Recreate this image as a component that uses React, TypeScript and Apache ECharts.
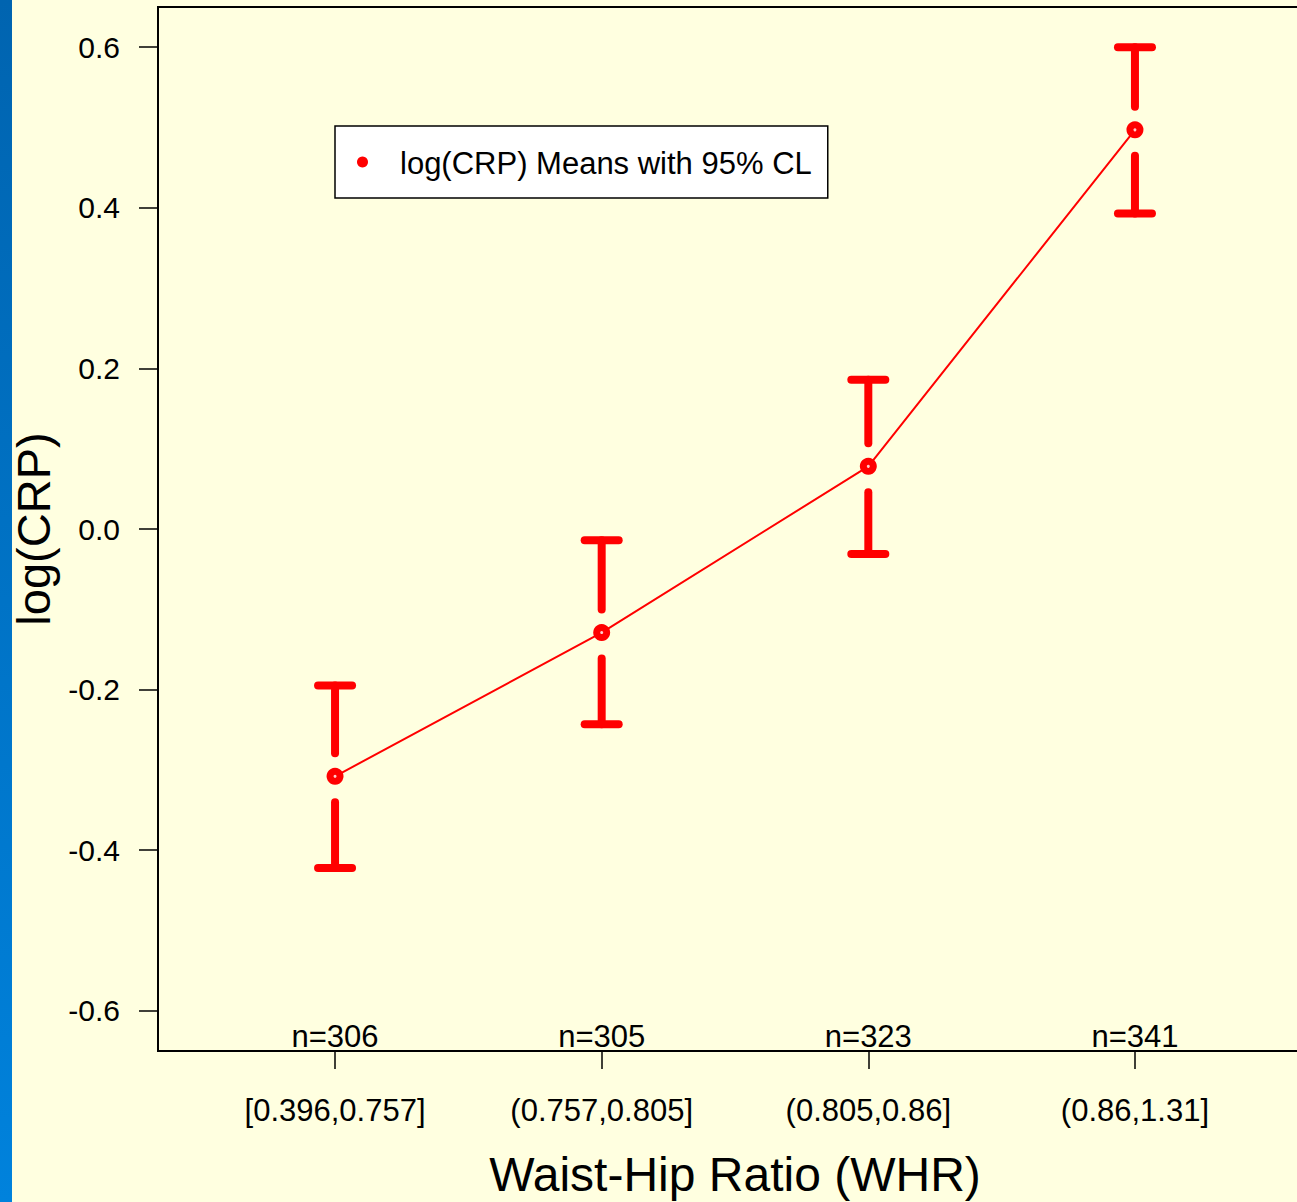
import React, { useEffect, useRef } from "react";
import * as echarts from "echarts";

// WHR quartile groups, sample sizes and log(CRP) means with 95% confidence limits
const categories = ["[0.396,0.757]", "(0.757,0.805]", "(0.805,0.86]", "(0.86,1.31]"];
const counts = [306, 305, 323, 341];
const means = [-0.308, -0.129, 0.078, 0.497];
const lowerCL = [-0.422, -0.243, -0.031, 0.393];
const upperCL = [-0.195, -0.014, 0.186, 0.6];
const yTicks = [-0.6, -0.4, -0.2, 0.0, 0.2, 0.4, 0.6];

const SERIES_NAME = "log(CRP) Means with 95% CL";
const FONT = "'Liberation Sans', Arial, Helvetica, sans-serif";
const RED = "#ff0000";
const X_MIN = 0.336;
const X_MAX = 4.664;
const Y_MIN = -0.65;
const Y_MAX = 0.65;

export default function App() {
  const ref = useRef<HTMLDivElement>(null);

  useEffect(() => {
    if (!ref.current) return;
    const chart = echarts.init(ref.current, null, { renderer: "svg" });
    const xs = categories.map((_, i) => i + 1);

    const option: any = {
      animation: false,
      backgroundColor: "#ffffe0",
      textStyle: { fontFamily: FONT },
      graphic: [
        {
          type: "rect",
          left: 0,
          top: 0,
          shape: { x: 0, y: 0, width: 12, height: 1202 },
          style: {
            fill: new echarts.graphic.LinearGradient(0, 0, 0, 1, [
              { offset: 0, color: "#0064b0" },
              { offset: 1, color: "#0082dc" },
            ]),
          },
          silent: true,
        },
      ],
      grid: {
        left: 158,
        right: -15,
        top: 7,
        bottom: 151,
        show: true,
        borderColor: "#000",
        borderWidth: 2,
        backgroundColor: "transparent",
        containLabel: false,
        outerBoundsMode: "none",
      },
      legend: {
        left: 335,
        top: 126,
        orient: "horizontal",
        backgroundColor: "#ffffff",
        borderColor: "#000",
        borderWidth: 1.5,
        borderRadius: 0,
        padding: [18, 16, 18, 22],
        itemWidth: 11,
        itemHeight: 11,
        selectedMode: false,
        data: [{ name: SERIES_NAME, icon: "circle", itemStyle: { color: RED } }],
        formatter: (name: string) => `{t|${name}}`,
        textStyle: {
          fontFamily: FONT,
          fontSize: 31,
          color: "#000",
          lineHeight: 36,
          rich: {
            t: {
              fontFamily: FONT,
              fontSize: 31,
              color: "#000",
              lineHeight: 36,
              padding: [2, 0, 0, 27],
            },
          },
        },
      },
      xAxis: {
        type: "value",
        min: X_MIN,
        max: X_MAX,
        name: "Waist-Hip Ratio (WHR)",
        nameLocation: "middle",
        nameGap: 99,
        nameTextStyle: { fontFamily: FONT, fontSize: 48, color: "#000" },
        axisLine: { show: true, onZero: false, lineStyle: { color: "#000", width: 2 } },
        axisTick: {
          show: true,
          inside: false,
          length: 18,
          customValues: xs,
          lineStyle: { color: "#000", width: 1.5 },
        },
        axisLabel: {
          show: true,
          customValues: xs,
          margin: 44,
          fontFamily: FONT,
          fontSize: 31,
          color: "#000",
          formatter: (v: number) => categories[Math.round(v) - 1] ?? "",
        },
        splitLine: { show: false },
      },
      yAxis: {
        type: "value",
        min: Y_MIN,
        max: Y_MAX,
        name: "log(CRP)",
        nameLocation: "middle",
        nameGap: 96,
        nameTextStyle: { fontFamily: FONT, fontSize: 47, color: "#000" },
        axisLine: { show: true, onZero: false, lineStyle: { color: "#000", width: 2 } },
        axisTick: {
          show: true,
          inside: false,
          length: 19,
          customValues: yTicks,
          lineStyle: { color: "#000", width: 1.5 },
        },
        axisLabel: {
          show: true,
          customValues: yTicks,
          margin: 38,
          fontFamily: FONT,
          fontSize: 30,
          color: "#000",
          formatter: (v: number) => (Math.abs(v) < 1e-9 ? "0.0" : v.toFixed(1)),
        },
        splitLine: { show: false },
      },
      series: [
        {
          // confidence-limit bars: thick stems with a gap around each mean, plus caps
          type: "custom",
          silent: true,
          z: 2,
          data: xs.map((x, i) => [x, means[i], lowerCL[i], upperCL[i]]),
          renderItem: (_params: any, api: any) => {
            const x = api.value(0);
            const c = api.coord([x, api.value(1)]);
            const lo = api.coord([x, api.value(2)]);
            const hi = api.coord([x, api.value(3)]);
            const style = { stroke: RED, lineWidth: 8, lineCap: "round" };
            const capHalf = 17;
            return {
              type: "group",
              children: [
                { type: "line", shape: { x1: c[0], y1: hi[1], x2: c[0], y2: c[1] - 23 }, style },
                { type: "line", shape: { x1: c[0], y1: c[1] + 26, x2: c[0], y2: lo[1] }, style },
                { type: "line", shape: { x1: c[0] - capHalf, y1: hi[1], x2: c[0] + capHalf, y2: hi[1] }, style },
                { type: "line", shape: { x1: c[0] - capHalf, y1: lo[1], x2: c[0] + capHalf, y2: lo[1] }, style },
              ],
            };
          },
        },
        {
          name: SERIES_NAME,
          type: "line",
          z: 3,
          data: xs.map((x, i) => [x, means[i]]),
          symbol: "circle",
          symbolSize: 17,
          itemStyle: { color: RED },
          lineStyle: { color: RED, width: 2 },
          emphasis: { disabled: true },
        },
        {
          // small highlight in the centre of each mean marker
          type: "scatter",
          silent: true,
          z: 4,
          data: xs.map((x, i) => [x, means[i]]),
          symbol: "circle",
          symbolSize: 3,
          itemStyle: { color: "#ffffff" },
        },
        {
          // group sizes written just above the x-axis line
          type: "custom",
          silent: true,
          z: 5,
          data: xs.map((x, i) => [x, counts[i]]),
          renderItem: (_params: any, api: any) => {
            const p = api.coord([api.value(0), Y_MIN]);
            return {
              type: "text",
              x: p[0],
              y: p[1] + 1,
              style: {
                text: "n=" + api.value(1),
                fill: "#000",
                font: `31px ${FONT}`,
                align: "center",
                verticalAlign: "bottom",
              },
            };
          },
        },
      ],
    };

    chart.setOption(option);
    return () => chart.dispose();
  }, []);

  return (
    <div
      ref={ref}
      style={{ position: "absolute", left: 0, top: 0, width: 1297, height: 1202 }}
    />
  );
}
